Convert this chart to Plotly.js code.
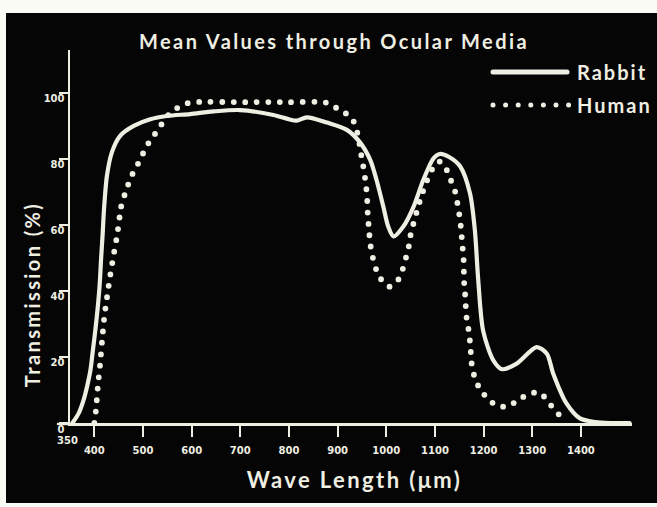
<!DOCTYPE html>
<html>
<head>
<meta charset="utf-8">
<script src="https://cdn.plot.ly/plotly-3.0.1.min.js"></script>
<style>
html,body{margin:0;padding:0;background:#fbfbf6;}
#chart{width:657px;height:507px;}
.scatterlayer .js-line{stroke-linecap:round;}
.shapelayer path{stroke-linecap:round;}
.gtitle{letter-spacing:2.4px;}
.annotation[data-index="0"] text,.annotation[data-index="1"] text{letter-spacing:2px;}
.annotation[data-index="2"] text{letter-spacing:2.4px;}
.annotation[data-index="3"] text{letter-spacing:2.4px;}
</style>
</head>
<body>
<div id="chart"></div>
<script>
// ---- data ----
const rabbitX = [355, 368, 378, 385, 392, 397, 402, 407, 411, 414, 417, 420, 426, 436, 453, 481, 515, 549, 597, 645, 700, 768, 800, 816, 837, 878, 919, 946, 967, 980, 994, 1004, 1015, 1035, 1056, 1076, 1097, 1110, 1130, 1152, 1172, 1182, 1189, 1199, 1220, 1238, 1268, 1309, 1330, 1343, 1370, 1398, 1430, 1460, 1500];
const rabbitY = [0, 3, 7, 11, 16, 22, 28, 35, 42, 50, 57, 65, 75, 82, 87, 90, 92, 93, 93.6, 94.4, 94.8, 93.3, 92, 91.6, 92.6, 91, 88.8, 85, 79.7, 73.6, 65.5, 59.5, 56.5, 59.5, 65.5, 73.6, 80.2, 81.5, 80.5, 77.7, 69.6, 58.5, 43.3, 28, 19, 16.3, 18, 23, 21, 15, 6, 1.4, 0.3, 0, 0];

const humanX = [400, 402, 404, 407.5, 412, 416, 420.5, 426, 433, 441, 447, 452, 455, 462, 469, 477, 488, 498, 508, 522, 536, 550, 566, 587, 607, 700, 800, 878, 898, 917, 932, 942, 948, 952, 956, 959, 961, 962, 964, 967, 972, 979, 989, 1006, 1025, 1034, 1041, 1047, 1050, 1056, 1063, 1075, 1095, 1110, 1124, 1132, 1141, 1146, 1150, 1153, 1155, 1157, 1159, 1160, 1162, 1165, 1169, 1172, 1174, 1176, 1182, 1193, 1208, 1228, 1251, 1273, 1293, 1314, 1331, 1343, 1356, 1370];
const humanY = [0, 2, 5, 11.5, 18, 25, 32, 38, 45, 52, 57, 62.5, 65.5, 69, 72, 75, 78, 81, 84, 87, 90, 93, 95, 96.7, 97.2, 97.2, 97.2, 97, 95.4, 93.8, 91.6, 87, 81.7, 78.4, 74.6, 71, 67, 63, 59.5, 54.4, 50.4, 46.6, 43.6, 41.3, 43.5, 46.7, 50.4, 54, 57, 60.5, 64.2, 70, 77, 79.2, 76.7, 73.8, 70.4, 66.8, 63.2, 59.8, 56.5, 53, 49.4, 42.6, 39, 32, 28.4, 24.6, 21, 17.4, 13.7, 10.2, 7.5, 5.2, 5.1, 7.2, 8.7, 9.3, 6.8, 4.5, 2.4, 0.9];

const xTickVals = [400, 500, 600, 700, 800, 900, 1000, 1100, 1200, 1300, 1400];
const xTickText = ['400', '500', '600', '700', '800', '900', '1000', '1100', '1200', '1300', '1400'];
const yTickVals = [0, 20, 40, 60, 80, 100];
const yTickText = ['0', '20', '40', '60', '80', '100'];
const seriesNames = ['Rabbit', 'Human'];

// ---- layout helpers ----
const W = 657, H = 507;
const M = {l: 70, r: 25, t: 50, b: 84};
const PW = W - M.l - M.r, PH = H - M.t - M.b;
const px = x => (x - M.l) / PW;
const py = y => (H - M.b - y) / PH;

const CREAM = '#efeee2';
const BG = '#050505';
const titleFont = 'Lato, "Open Sans", sans-serif';
const tickFont = {family: '"DejaVu Sans", sans-serif', size: 10, color: CREAM, weight: 'bold'};

const traces = [
  {x: rabbitX, y: rabbitY, name: seriesNames[0], type: 'scatter', mode: 'lines',
   line: {color: CREAM, width: 4.2, shape: 'spline', smoothing: 0.8}, cliponaxis: false, hoverinfo: 'skip'},
  {x: humanX, y: humanY, name: seriesNames[1], type: 'scatter', mode: 'lines',
   line: {color: CREAM, width: 5.8, shape: 'spline', smoothing: 0.8, dash: '0px,11.5px'}, cliponaxis: false, hoverinfo: 'skip'}
];

const layout = {
  width: W, height: H,
  margin: M,
  paper_bgcolor: '#fbfbf6',
  plot_bgcolor: 'rgba(0,0,0,0)',
  showlegend: false,
  title: {text: 'Mean Values through Ocular Media', xref: 'container', yref: 'container',
          x: 334 / W, y: 1 - 42 / H, xanchor: 'center', yanchor: 'middle',
          font: {family: titleFont, size: 20, color: CREAM, weight: 'bold'}},
  xaxis: {range: [350, 1505], showline: true, linecolor: CREAM, linewidth: 2.5,
          ticks: 'outside', ticklen: 11, tickwidth: 2, tickcolor: CREAM,
          tickmode: 'array', tickvals: xTickVals, ticktext: xTickText, tickfont: tickFont,
          ticklabelstandoff: 5,
          showgrid: false, zeroline: false, fixedrange: true},
  yaxis: {range: [0, 113], showline: true, linecolor: CREAM, linewidth: 2.5,
          ticks: 'outside', ticklen: 9, tickwidth: 2, tickcolor: CREAM,
          tickmode: 'array', tickvals: yTickVals, ticktext: yTickText, tickfont: tickFont,
          ticklabelshift: 6, ticklabelstandoff: -8,
          showgrid: false, zeroline: false, fixedrange: true},
  shapes: [
    {type: 'rect', xref: 'paper', yref: 'paper', x0: px(6), x1: px(660), y0: py(503), y1: py(13),
     fillcolor: BG, line: {width: 0}, layer: 'below'},
    {type: 'line', xref: 'paper', yref: 'paper', x0: px(58), x1: px(70), y0: py(424), y1: py(424),
     line: {color: CREAM, width: 2.5}},
    {type: 'line', xref: 'paper', yref: 'paper', x0: px(493), x1: px(567), y0: py(72), y1: py(72),
     line: {color: CREAM, width: 5}},
    {type: 'line', xref: 'paper', yref: 'paper', x0: px(493), x1: px(569), y0: py(105), y1: py(105),
     line: {color: CREAM, width: 5, dash: '0px,12.6px'}}
  ],
  annotations: [
    {text: seriesNames[0], xref: 'paper', yref: 'paper', x: px(581), y: py(72), xanchor: 'left', yanchor: 'middle',
     showarrow: false, font: {family: titleFont, size: 20, color: CREAM, weight: 'bold'}},
    {text: seriesNames[1], xref: 'paper', yref: 'paper', x: px(580), y: py(105), xanchor: 'left', yanchor: 'middle',
     showarrow: false, font: {family: titleFont, size: 20, color: CREAM, weight: 'bold'}},
    {text: 'Transmission (%)', xref: 'paper', yref: 'paper', x: px(32), y: py(295), xanchor: 'center', yanchor: 'middle',
     textangle: -90, showarrow: false, font: {family: titleFont, size: 20, color: CREAM, weight: 'bold'}},
    {text: 'Wave Length (μm)', xref: 'paper', yref: 'paper', x: px(354), y: py(480), xanchor: 'center', yanchor: 'middle',
     showarrow: false, font: {family: titleFont, size: 22, color: CREAM, weight: 'bold'}},
    {text: '350', xref: 'paper', yref: 'paper', x: px(67), y: py(440), xanchor: 'center', yanchor: 'middle',
     showarrow: false, font: tickFont}
  ]
};

Plotly.newPlot('chart', traces, layout, {staticPlot: true, displayModeBar: false});
</script>
</body>
</html>
